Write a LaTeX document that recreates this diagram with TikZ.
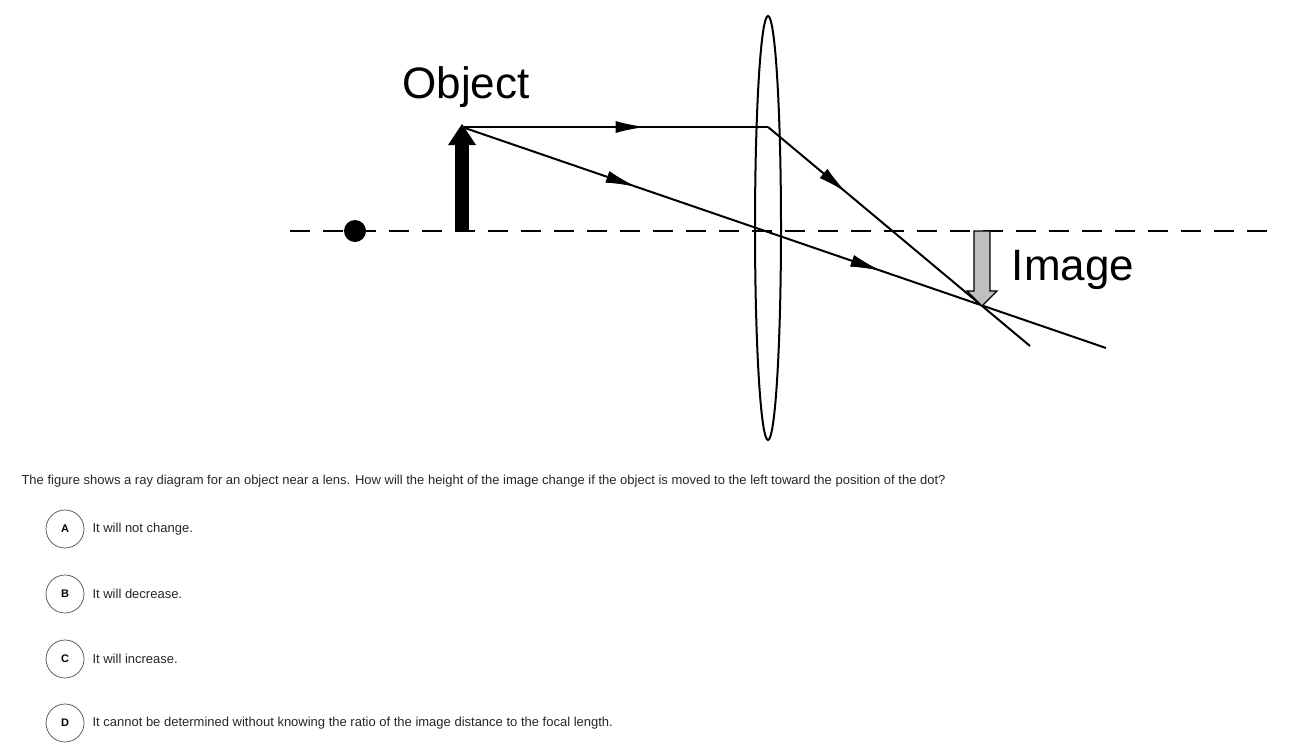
\documentclass[tikz,border=0pt]{standalone}
\usepackage{fontspec}
\setmainfont{Liberation Sans}
\usetikzlibrary{arrows.meta,decorations.markings,shapes.geometric}
\begin{document}
\begin{tikzpicture}[x=1pt,y=-1pt,
  ray/.style={line width=2pt},
  mid/.style={postaction={decorate},decoration={markings,mark=at position #1 with {\arrow{Latex[length=30pt,width=12pt]}}}},
  opt/.style={circle,draw=black!70,line width=0.7pt,minimum size=38pt,inner sep=0pt,font=\fontsize{11}{11}\selectfont\bfseries},
  ans/.style={anchor=west,font=\fontsize{13}{13}\selectfont,text=black!85}]
\useasboundingbox (0,0) rectangle (1316,752);
\coordinate (axL) at (290,231); \coordinate (axR) at (1268,231);
\draw[line width=2pt,dash pattern=on 20pt off 13pt] (axL) -- (axR);
\node[circle,fill,inner sep=0pt,minimum size=22pt] (dot) at (355,231) {};
\node[ellipse,draw,line width=2pt,minimum width=26pt,minimum height=424pt,inner sep=0pt] (lens) at (768,228) {};
\coordinate (tip) at (462,127); \coordinate (p1) at (768,127);
\coordinate (e1) at (1030,346); \coordinate (e2) at (1106,348);
\fill (455,231) rectangle (469,142);
\fill (448,145) -- (462,124) -- (476,145) -- cycle;
\draw[ray,mid=0.6] (tip) -- (p1);
\draw[ray,mid=0.3] (p1) -- (e1);
\draw[ray,mid=0.27,mid=0.65] (tip) -- (e2);
\draw[fill=black!25,line width=1.2pt] (974,231) -- (990,231) -- (990,291) -- (997,291) -- (982,306) -- (967,291) -- (974,291) -- cycle;
\node[font=\fontsize{44}{44}\selectfont] (obj) at (466,87) {Object};
\node[font=\fontsize{44}{44}\selectfont] (img) at (1073,270) {Image};
\node[anchor=west,font=\fontsize{13}{13}\selectfont,text=black!85] (q) at (18,481) {The figure shows a ray diagram for an object near a lens. How will the height of the image change if the object is moved to the left toward the position of the dot?};
\node[opt] (A) at (65,529) {A}; \node[ans] (tA) at (89,529) {It will not change.};
\node[opt] (B) at (65,594) {B}; \node[ans] (tB) at (89,594) {It will decrease.};
\node[opt] (C) at (65,659) {C}; \node[ans] (tC) at (89,659) {It will increase.};
\node[opt] (D) at (65,723) {D}; \node[ans] (tD) at (89,723) {It cannot be determined without knowing the ratio of the image distance to the focal length.};
\end{tikzpicture}
\end{document}
